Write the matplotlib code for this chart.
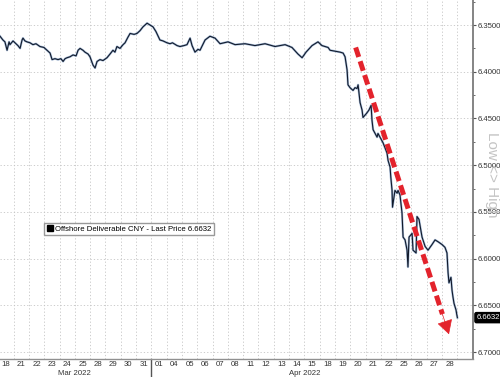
import matplotlib.pyplot as plt
from matplotlib.lines import Line2D
from matplotlib.ticker import MultipleLocator, FormatStrFormatter
import matplotlib.transforms as mtrans

plt.rcParams['font.family'] = ['Liberation Sans', 'DejaVu Sans']

# trading days shown on the x axis (weekends collapsed)
day_labels = ["18", "21", "22", "23", "24", "25", "28", "29", "30", "31",
              "01", "04", "05", "06", "07", "08", "11", "12", "13", "14",
              "15", "18", "19", "20", "21", "22", "25", "26", "27", "28"]
month_labels = ["Mar 2022", "Apr 2022"]
month_days = [10, 20]

# time in trading days since Mar 18 open, and USD/CNH price
t = [0.11, 0.30, 0.43, 0.57, 0.70, 0.76, 0.96, 1.09, 1.28, 1.42,
     1.55, 1.61, 1.74, 1.87, 2.07, 2.26, 2.46, 2.72, 2.98, 3.18,
     3.38, 3.51, 3.70, 3.90, 4.09, 4.23, 4.36, 4.49, 4.68, 4.88,
     5.08, 5.21, 5.34, 5.53, 5.66, 5.86, 5.99, 6.19, 6.32, 6.45,
     6.64, 6.84, 7.10, 7.30, 7.49, 7.62, 7.75, 7.95, 8.15, 8.28,
     8.47, 8.61, 8.87, 9.06, 9.26, 9.45, 9.58, 9.72, 9.91, 10.11,
     10.30, 10.56, 10.76, 11.02, 11.22, 11.38, 11.68, 11.87, 12.13, 12.33,
     12.53, 12.66, 12.85, 13.05, 13.18, 13.51, 13.83, 14.16, 14.49, 15.01,
     15.47, 16.12, 16.77, 17.43, 18.08, 18.74, 19.19, 19.58, 19.85, 20.11,
     20.50, 20.89, 21.15, 21.55, 21.68, 22.33, 22.53, 22.66, 22.79, 22.85,
     22.98, 23.18, 23.31, 23.44, 23.51, 23.64, 23.77, 23.83, 24.09, 24.22,
     24.36, 24.42, 24.49, 24.75, 24.81, 24.94, 25.14, 25.40, 25.47, 25.60,
     25.65, 25.73, 25.76, 25.92, 26.06, 26.12, 26.25, 26.38, 26.45, 26.58,
     26.71, 26.77, 26.84, 27.04, 27.10, 27.30, 27.36, 27.49, 27.69, 27.89,
     28.08, 28.34, 28.54, 28.74, 29.00, 29.19, 29.32, 29.39, 29.45, 29.58,
     29.65, 29.71, 29.78, 29.91, 29.96, 30.00]
price = [6.362, 6.366, 6.368, 6.377, 6.368, 6.371, 6.367, 6.369, 6.372, 6.375,
         6.366, 6.364, 6.367, 6.368, 6.369, 6.371, 6.370, 6.373, 6.374, 6.377,
         6.380, 6.387, 6.386, 6.387, 6.386, 6.389, 6.386, 6.385, 6.384, 6.382,
         6.383, 6.377, 6.375, 6.377, 6.379, 6.381, 6.384, 6.393, 6.396, 6.389,
         6.387, 6.388, 6.385, 6.381, 6.377, 6.379, 6.373, 6.375, 6.371, 6.369,
         6.363, 6.359, 6.360, 6.359, 6.356, 6.352, 6.350, 6.348, 6.350, 6.352,
         6.357, 6.366, 6.367, 6.369, 6.370, 6.369, 6.372, 6.373, 6.372, 6.371,
         6.364, 6.372, 6.379, 6.376, 6.377, 6.366, 6.362, 6.364, 6.370, 6.368,
         6.371, 6.370, 6.372, 6.370, 6.373, 6.371, 6.374, 6.381, 6.385, 6.379,
         6.372, 6.368, 6.372, 6.374, 6.377, 6.379, 6.380, 6.384, 6.398, 6.414,
         6.417, 6.420, 6.417, 6.418, 6.414, 6.433, 6.441, 6.449, 6.444, 6.441,
         6.436, 6.452, 6.462, 6.470, 6.466, 6.470, 6.476, 6.487, 6.495, 6.502,
         6.513, 6.527, 6.545, 6.527, 6.530, 6.527, 6.532, 6.551, 6.577, 6.580,
         6.591, 6.609, 6.577, 6.573, 6.591, 6.594, 6.555, 6.558, 6.577, 6.587,
         6.591, 6.585, 6.580, 6.582, 6.585, 6.588, 6.594, 6.615, 6.626, 6.620,
         6.634, 6.641, 6.648, 6.655, 6.660, 6.6632]
last_price = 6.6632

# red trend arrow (annotation)
arrow_start = (23.35, 6.374)
arrow_end = (29.45, 6.681)

fig = plt.figure(figsize=(5, 3.77), dpi=100)
ax = fig.add_axes([0, 0.0477, 0.946, 0.9523])

ax.plot(t, price, color='#3b6aa8', lw=1.6, alpha=0.45, zorder=3)
ax.plot(t, price, color='#111a2b', lw=0.8, zorder=4)

# dashed shaft + solid head
frac = 0.93
mid = (arrow_start[0] + frac * (arrow_end[0] - arrow_start[0]),
       arrow_start[1] + frac * (arrow_end[1] - arrow_start[1]))
ax.plot([arrow_start[0], mid[0]], [arrow_start[1], mid[1]], color='#e3232c',
        lw=3.6, dashes=(2.0, 0.9), solid_capstyle='butt', dash_capstyle='butt', zorder=5)
ax.annotate('', xy=arrow_end, xytext=mid,
            arrowprops=dict(arrowstyle='-|>,head_length=0.9,head_width=0.5',
                            color='#e3232c', lw=0.5, shrinkA=0, shrinkB=0), zorder=5)

ax.set_xlim(0.108, 31.02)
ax.set_ylim(6.7075, 6.3232)

# x axis: day labels centred, grid on day boundaries
ax.set_xticks([i + 0.5 for i in range(len(day_labels))])
ax.set_xticklabels(day_labels)
ax.set_xticks(range(1, 31), minor=True)
ax.tick_params(axis='x', which='both', length=0, pad=1.5, labelsize=5.6, colors='#333333')

ax.yaxis.tick_right()
ax.yaxis.set_major_locator(MultipleLocator(0.05))
ax.yaxis.set_minor_locator(MultipleLocator(0.025))
ax.yaxis.set_major_formatter(FormatStrFormatter('%.4f'))
ax.tick_params(axis='y', which='major', length=2.2, width=0.8, color='#555555',
               pad=1.0, labelsize=5.6, colors='#333333')
ax.tick_params(axis='y', which='minor', length=1.5, width=0.6, color='#555555')

ax.grid(which='minor', axis='x', color='#c4c4c4', lw=0.6, linestyle=(0, (1.5, 2.5)))
ax.grid(which='major', axis='y', color='#c4c4c4', lw=0.6, linestyle=(0, (1.5, 2.5)))
ax.set_axisbelow(True)

for s in ['top', 'left']:
    ax.spines[s].set_visible(False)
ax.spines['right'].set_color('#707070')
ax.spines['bottom'].set_color('#909090')
ax.spines['right'].set_linewidth(1.2)
ax.spines['bottom'].set_linewidth(1.0)

# month labels and separator
trans = mtrans.blended_transform_factory(ax.transData, ax.transAxes)
start = 0
for lab, n in zip(month_labels, month_days):
    ax.text(start + n / 2, -0.041, lab, transform=trans, ha='center', va='center',
            fontsize=5.6, color='#333333')
    start += n
ax.plot([month_days[0], month_days[0]], [0, -0.06], transform=trans,
        color='#555555', lw=1.0, clip_on=False)

# last price tag
ax.annotate(f'{last_price:.4f}', xy=(1.0, last_price), xycoords=('axes fraction', 'data'),
            xytext=(2.5, 0), textcoords='offset points', ha='left', va='center',
            color='white', fontsize=5.6,
            bbox=dict(boxstyle='round,pad=0.2', fc='black', ec='black'))

fig.text(0.984, 0.536, 'Low <> High', rotation=270, color='#c4c4c4', fontsize=11,
         ha='center', va='center', zorder=0)

handle = Line2D([], [], marker='s', color='black', ls='', markersize=4)
ax.legend([handle], ['Offshore Deliverable CNY - Last Price 6.6632'],
          loc='center left', bbox_to_anchor=(0.085, 0.362), fontsize=5.6,
          frameon=True, fancybox=False, edgecolor='#999999', borderpad=0.35,
          handlelength=0.8, handletextpad=0.3, framealpha=1)

fig.savefig('out.png', dpi=100)
